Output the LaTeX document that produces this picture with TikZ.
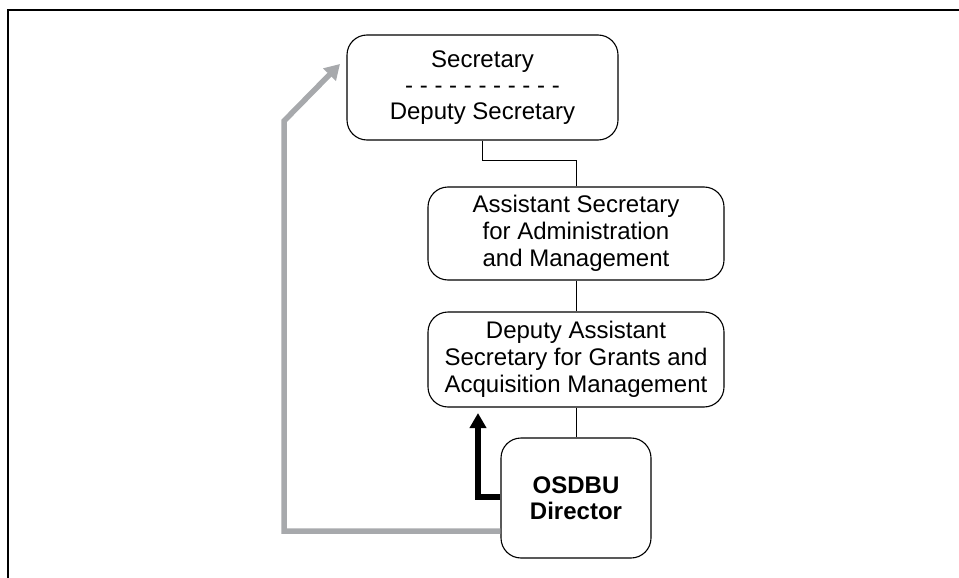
\documentclass[tikz,border=0pt]{standalone}
\usepackage{fontspec}
\setmainfont{Liberation Sans}
\usepackage{xcolor}
\usetikzlibrary{arrows.meta,calc}
\definecolor{arrowgray}{HTML}{A7A9AC}

\tikzset{
  orgbox/.style={draw, rounded corners=20pt, line width=1.1pt, align=center,
                 inner sep=0pt, font=\fontsize{24}{27}\selectfont},
  orgline/.style={line width=0.9pt},
  blackarrow/.style={line width=5.5pt, -{Triangle[width=16pt,length=15pt]}},
  grayarrow/.style={arrowgray, line width=5.5pt, -{Triangle[width=17pt,length=15pt]}}
}

\begin{document}
\begin{tikzpicture}[x=1pt,y=-1pt]
\useasboundingbox (0,0) rectangle (959,578);

% cornice
\draw[line width=2pt] (959,10) -- (8,10) -- (8,578);

\node[orgbox, minimum width=271pt, minimum height=105pt,
      font=\fontsize{24}{26}\selectfont] at (482.5,87.5) (sec)
      {Secretary\\- - - - - - - - - - -\\Deputy Secretary};
\node[orgbox, minimum width=296pt, minimum height=93pt] at (576,233.5) (asa)
      {Assistant Secretary\\for Administration\\and Management};
\node[orgbox, minimum width=296pt, minimum height=95pt] at (576,359.5) (dasg)
      {Deputy Assistant\\Secretary for Grants and\\Acquisition Management};
\node[orgbox, minimum width=150pt, minimum height=120pt,
      font=\fontsize{24}{26}\selectfont\bfseries] at (576,498) (osdbu)
      {OSDBU\\Director};

\draw[orgline] (sec.south) -- ++(0,20) -| (asa.north);
\draw[orgline] (asa) -- (dasg);
\draw[orgline] (dasg) -- (osdbu);

% frecce
\coordinate (upTip) at (478,413);
\coordinate (grayBend) at (284,121);
\coordinate (grayTip) at (340,64);
\draw[blackarrow] ([yshift=1pt]osdbu.west) -| (upTip);
\draw[grayarrow] ([yshift=-33pt]osdbu.west) -| (grayBend) -- (grayTip);
\end{tikzpicture}
\end{document}
